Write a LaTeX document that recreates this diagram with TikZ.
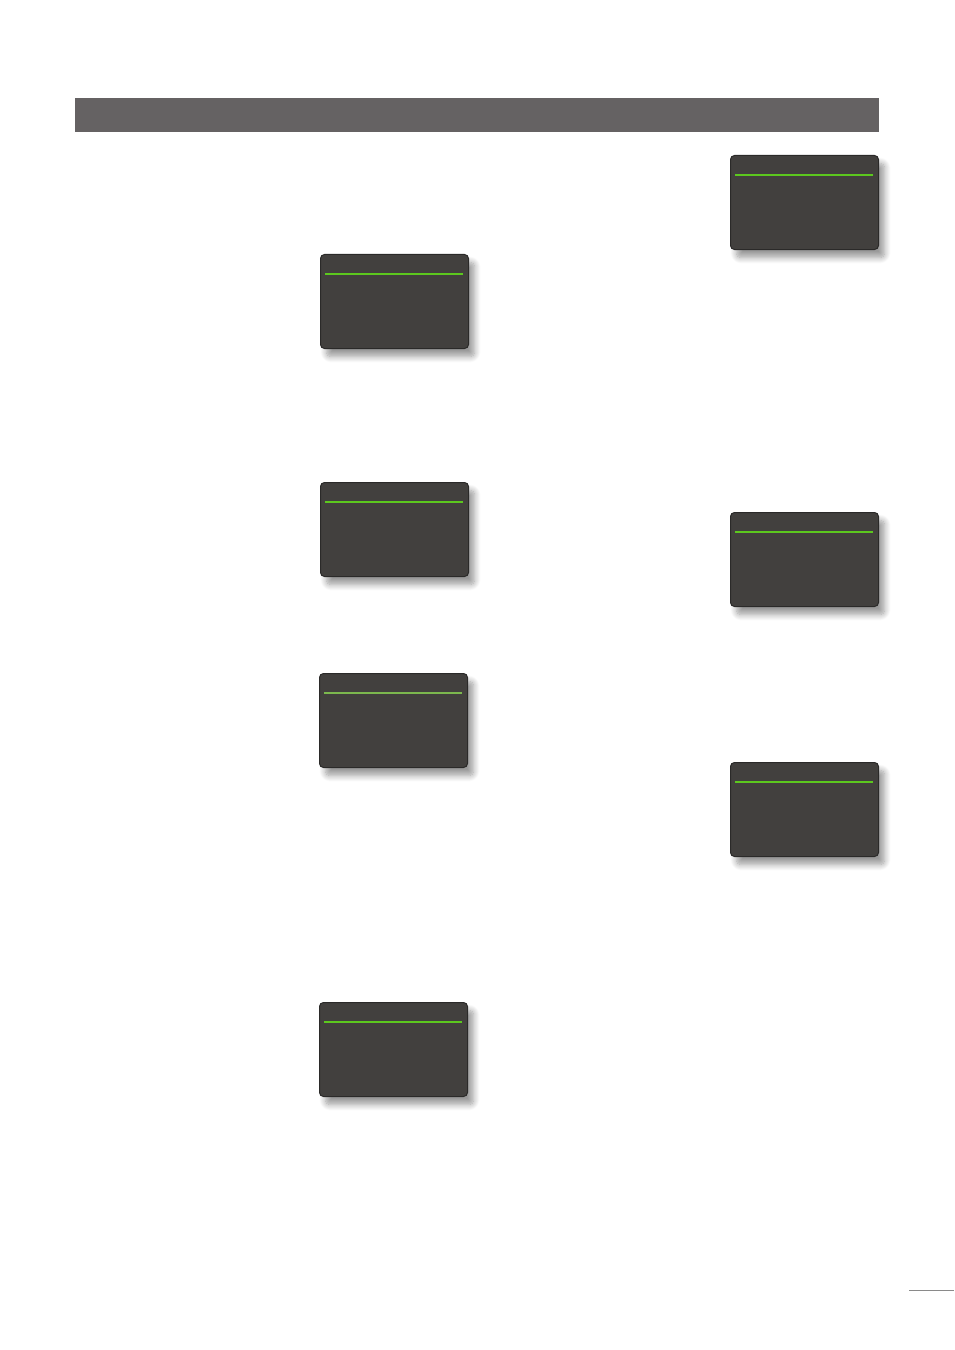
\documentclass[tikz,border=0pt]{standalone}
\usetikzlibrary{calc,shadows.blur}
\definecolor{barGrey}{HTML}{656263}
\definecolor{screenFill}{HTML}{42403E}
\definecolor{screenEdge}{HTML}{2B2A29}
\definecolor{menuGreen}{HTML}{5CC81E}
\definecolor{menuPale}{HTML}{7CB84E}
\definecolor{tickGrey}{HTML}{8A8A8A}
\begin{document}
\begin{tikzpicture}[x=1bp,y=-1bp,
    bar/.style={fill=barGrey,minimum width=804bp,minimum height=34bp,inner sep=0pt},
    screen/.style={draw=screenEdge,fill=screenFill,line width=1bp,rounded corners=4bp,
        minimum width=148bp,minimum height=94bp,inner sep=0pt,
        blur shadow={shadow xshift=6bp,shadow yshift=-8bp,shadow blur radius=6bp,
                     shadow blur steps=10,shadow opacity=40}},
    menuline/.style={menuGreen,line width=1.3bp}]
  \useasboundingbox (0,0) rectangle (954,1350);
  \node[bar] (header) at (477,115) {};
  % left column
  \node[screen] (s1) at (394.5,301.5) {};
  \node[screen] (s2) at (394.5,529.5) {};
  \node[screen] (s3) at (393.5,720.5) {};
  \node[screen] (s4) at (393.5,1049.5) {};
  % right column
  \node[screen] (s5) at (804.5,202.5) {};
  \node[screen] (s6) at (804.5,559.5) {};
  \node[screen] (s7) at (804.5,809.5) {};
  \foreach \s in {s1,s2,s4,s5,s6,s7}
    \draw[menuline] ($(\s.north west)+(5,20)$) -- ($(\s.north east)+(-6,20)$);
  \draw[menuline,menuPale] ($(s3.north west)+(5,20)$) -- ($(s3.north east)+(-6,20)$);
  \coordinate (tick) at (909,1290);
  \draw[tickGrey,line width=1bp] (tick) -- ++(45,0);
\end{tikzpicture}
\end{document}
